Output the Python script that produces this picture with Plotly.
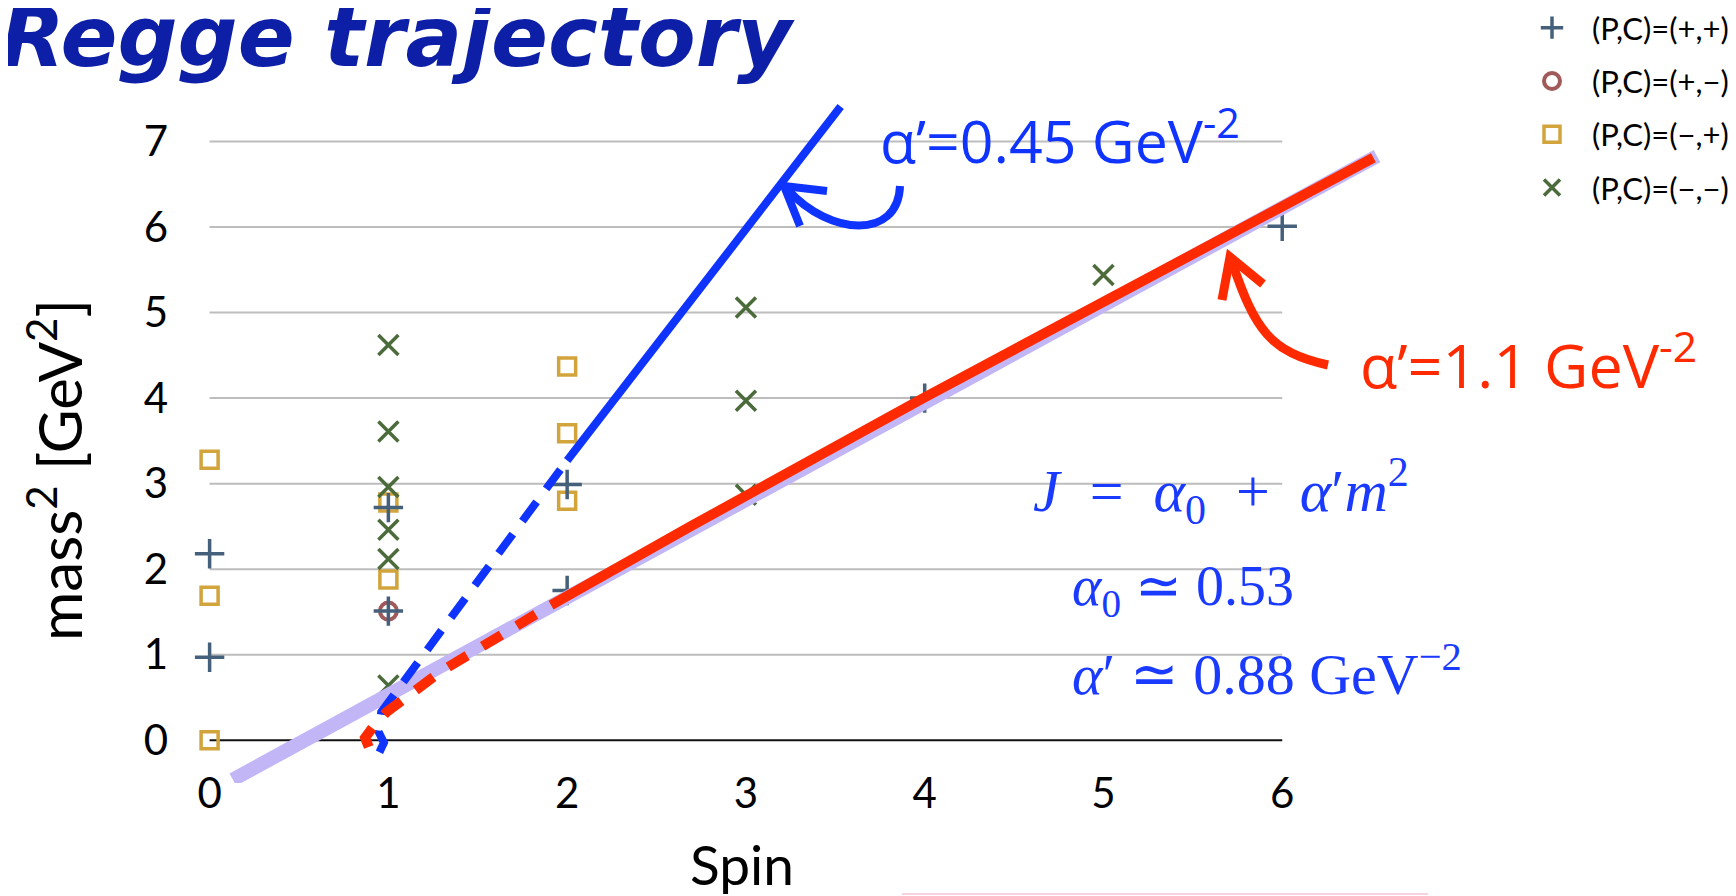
import plotly.graph_objects as go

# ---------------- data ----------------
spin_pp = [0, 0, 1, 1, 2, 2, 4, 6]
m2_pp = [2.18, 0.97, 2.72, 1.51, 2.99, 1.75, 4.0, 6.01]

spin_pm = [1]
m2_pm = [1.51]

spin_mp = [0, 0, 0, 1, 1, 2, 2, 2]
m2_mp = [3.28, 1.69, 0.0, 2.78, 1.88, 4.37, 3.59, 2.80]

spin_mm = [1, 1, 1, 1, 1, 1, 3, 3, 3, 5]
m2_mm = [4.62, 3.61, 2.96, 2.46, 2.12, 0.64, 5.06, 3.97, 2.87, 5.44]

fit_x = [0.13, 6.53]
fit_y = [-0.46, 6.83]

red_dash_x = [0.89, 0.87, 0.92, 0.99, 1.29, 1.57, 1.91]
red_dash_y = [-0.08, 0.03, 0.17, 0.33, 0.80, 1.15, 1.58]
red_solid_x = [1.91, 2.69, 4.0, 6.51]
red_solid_y = [1.58, 2.50, 4.01, 6.81]

blue_dash_x = [0.95, 0.975, 0.945, 0.96, 2.0]
blue_dash_y = [-0.14, -0.03, 0.10, 0.33, 3.27]
blue_solid_x = [2.0, 3.53]
blue_solid_y = [3.27, 7.41]

x_ticks = [0, 1, 2, 3, 4, 5, 6]
y_ticks = [0, 1, 2, 3, 4, 5, 6, 7]
legend_names = ["(P,C)=(+,+)", "(P,C)=(+,\u2212)", "(P,C)=(\u2212,+)", "(P,C)=(\u2212,\u2212)"]

# ---------------- layout geometry (screen pixels; page body has an 8px margin) ----------------
OFF = 8
L, T, W, H = 181, 56, 1280, 727          # plot area on screen
FIG_W, FIG_H = 1736 - OFF, 896 - OFF


def px(x):
    return (x - L) / W


def py(y):
    return (T + H - y) / H


C_PP = "#45607A"
C_PM = "#A05A5A"
C_MP = "#D2A43C"
C_MM = "#4B6B3B"
BLUE = "#1034FF"
RED = "#FF2A00"
LAV = "#C3B6F6"
MATH = "#1A3BFF"

fig = go.Figure()

fig.add_trace(go.Scatter(x=spin_mp, y=m2_mp, mode="markers", name=legend_names[2], legendrank=3,
                         legendgroup="mp",
                         marker=dict(symbol="square-open", size=17, color=C_MP, line=dict(width=3.5, color=C_MP))))
fig.add_trace(go.Scatter(x=spin_pm, y=m2_pm, mode="markers", name=legend_names[1], legendrank=2,
                         legendgroup="pm",
                         marker=dict(symbol="circle-open", size=17, color=C_PM, line=dict(width=4, color=C_PM))))
fig.add_trace(go.Scatter(x=spin_mm, y=m2_mm, mode="markers", name=legend_names[3], legendrank=4,
                         legendgroup="mm",
                         marker=dict(symbol="x-thin", size=20, color=C_MM, line=dict(width=3.5, color=C_MM))))
fig.add_trace(go.Scatter(x=spin_pp, y=m2_pp, mode="markers", name=legend_names[0], legendrank=1,
                         legendgroup="pp",
                         marker=dict(symbol="cross-thin", size=21, color=C_PP, line=dict(width=3.5, color=C_PP))))

fig.add_trace(go.Scatter(x=fit_x, y=fit_y, mode="lines", showlegend=False, hoverinfo="skip",
                         line=dict(color=LAV, width=14)))
fig.add_trace(go.Scatter(x=blue_dash_x, y=blue_dash_y, mode="lines", showlegend=False, hoverinfo="skip",
                         line=dict(color=BLUE, width=8, dash="24px,16px")))
fig.add_trace(go.Scatter(x=blue_solid_x, y=blue_solid_y, mode="lines", showlegend=False, hoverinfo="skip",
                         line=dict(color=BLUE, width=8)))
fig.add_trace(go.Scatter(x=red_dash_x, y=red_dash_y, mode="lines", showlegend=False, hoverinfo="skip",
                         line=dict(color=RED, width=10, dash="22px,18px")))
fig.add_trace(go.Scatter(x=red_solid_x, y=red_solid_y, mode="lines", showlegend=False, hoverinfo="skip",
                         line=dict(color=RED, width=10)))

shapes = []
# gridlines spanning spin 0..6
for v in y_ticks[1:]:
    shapes.append(dict(type="line", xref="x", yref="y", x0=0, x1=6, y0=v, y1=v,
                       line=dict(color="#BDBDBD", width=2), layer="below"))
shapes.append(dict(type="line", xref="x", yref="y", x0=0, x1=6, y0=0, y1=0,
                   line=dict(color="#111111", width=2), layer="below"))


def pth(pts, cmd):
    out = []
    for c, p in zip(cmd, pts):
        out.append(f"{c} {px(p[0]):.5f},{py(p[1]):.5f}")
    return " ".join(out)


def curve(p0, c1, c2, p1):
    return (f"M {px(p0[0]):.5f},{py(p0[1]):.5f} C {px(c1[0]):.5f},{py(c1[1]):.5f} "
            f"{px(c2[0]):.5f},{py(c2[1]):.5f} {px(p1[0]):.5f},{py(p1[1]):.5f}")


# blue curved arrow
shapes.append(dict(type="path", xref="paper", yref="paper",
                   path=curve((900, 186), (898, 240), (830, 236), (788, 190)),
                   line=dict(color=BLUE, width=8)))
shapes.append(dict(type="path", xref="paper", yref="paper",
                   path=pth([(827, 191), (784, 186), (800, 226)], "MLL"),
                   line=dict(color=BLUE, width=8)))
# red curved arrow
shapes.append(dict(type="path", xref="paper", yref="paper",
                   path=curve((1328, 365), (1270, 352), (1255, 330), (1232, 262)),
                   line=dict(color=RED, width=9)))
shapes.append(dict(type="path", xref="paper", yref="paper",
                   path=pth([(1222, 300), (1230, 257), (1263, 284)], "MLL"),
                   line=dict(color=RED, width=9)))
# faint pink line at the bottom
shapes.append(dict(type="line", xref="paper", yref="paper", x0=px(902), x1=px(1428), y0=py(894), y1=py(894),
                   line=dict(color="#F6D3E1", width=2)))

SP = "\u2002"
annotations = [
    dict(text="<b><i>Regge trajectory</i></b>", x=px(-2), y=py(37), xref="paper", yref="paper",
         xanchor="left", yanchor="middle", showarrow=False,
         font=dict(family="DejaVu Sans", size=84, color="#0C1FA6")),
    dict(text="Spin", x=px(742), y=py(864), xref="paper", yref="paper", xanchor="center", yanchor="middle",
         showarrow=False, font=dict(family="Lato", size=55, color="#000000")),
    dict(text="mass<sup>2</sup> [GeV<sup>2</sup>]", x=px(55), y=py(470), xref="paper", yref="paper",
         xanchor="center", yanchor="middle", textangle=-90, showarrow=False,
         font=dict(family="Lato", size=60, color="#000000")),
    dict(text="\u03b1\u2019=0.45 GeV<sup>-2</sup>", x=px(878), y=py(137), xref="paper", yref="paper",
         xanchor="left", yanchor="middle", showarrow=False,
         font=dict(family="Open Sans", size=59, color=BLUE)),
    dict(text="\u03b1\u2019=1.1 GeV<sup>-2</sup>", x=px(1358), y=py(361), xref="paper", yref="paper",
         xanchor="left", yanchor="middle", showarrow=False,
         font=dict(family="Open Sans", size=61, color=RED)),
    dict(text=f"<i>J</i>{SP}={SP}<i>\u03b1</i><sub>0</sub>{SP}+{SP}<i>\u03b1</i>\u2032<i>m</i><sup>2</sup>",
         x=px(1031), y=py(491), xref="paper", yref="paper", xanchor="left", yanchor="middle", showarrow=False,
         font=dict(family="Liberation Serif", size=60, color=MATH)),
    dict(text="<i>\u03b1</i><sub>0</sub> \u2243 0.53",
         x=px(1070), y=py(590), xref="paper", yref="paper", xanchor="left", yanchor="middle", showarrow=False,
         font=dict(family="Liberation Serif", size=56, color=MATH)),
    dict(text="<i>\u03b1</i>\u2032 \u2243 0.88 GeV<sup>\u22122</sup>",
         x=px(1070), y=py(670), xref="paper", yref="paper", xanchor="left", yanchor="middle", showarrow=False,
         font=dict(family="Liberation Serif", size=58, color=MATH)),
]

fig.update_layout(
    width=FIG_W, height=FIG_H,
    margin=dict(l=L - OFF, r=FIG_W - (L - OFF) - W, t=T - OFF, b=FIG_H - (T - OFF) - H, pad=0, autoexpand=False),
    paper_bgcolor="white", plot_bgcolor="white",
    shapes=shapes, annotations=annotations,
    showlegend=True,
    legend=dict(x=px(1512), y=py(1), xanchor="left", yanchor="top",
                font=dict(family="Lato", size=31, color="#000000"),
                bgcolor="rgba(0,0,0,0)", itemwidth=70, tracegroupgap=10),
    xaxis=dict(range=[-0.16, 7.0], tickvals=x_ticks, ticktext=[str(v) for v in x_ticks],
               showgrid=False, zeroline=False, showline=False, ticks="",
               tickfont=dict(family="Lato", size=42, color="#000000"), ticklabelstandoff=-18),
    yaxis=dict(range=[-0.5, 8.0], tickvals=y_ticks, ticktext=[str(v) for v in y_ticks],
               showgrid=False, zeroline=False, showline=False, ticks="",
               tickfont=dict(family="Lato", size=42, color="#000000"), ticklabelstandoff=12),
)

fig.write_html("out.html")
